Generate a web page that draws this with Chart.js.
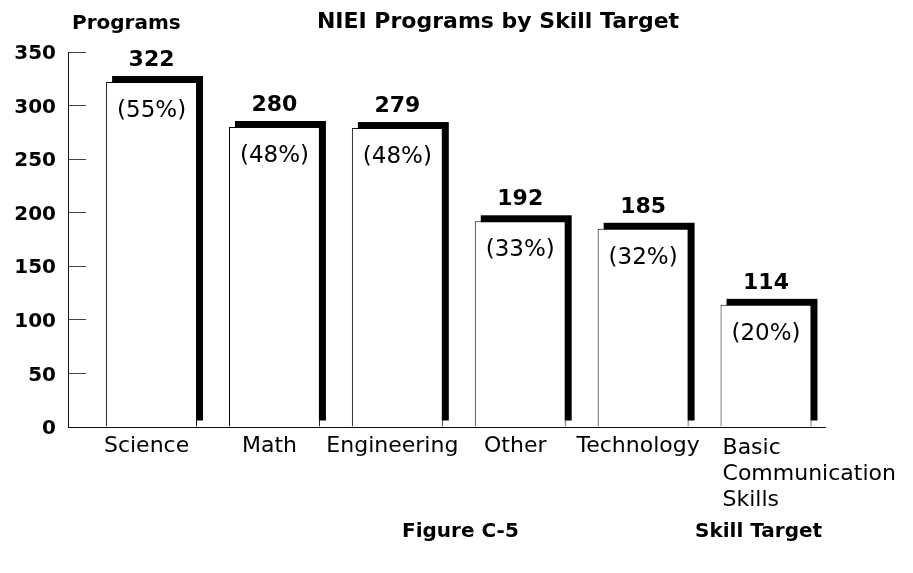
<!DOCTYPE html>
<html>
<head>
<meta charset="utf-8">
<title>NIEI Programs by Skill Target</title>
<script src="https://cdn.jsdelivr.net/npm/chart.js@4.4.0/dist/chart.umd.min.js"></script>
<style>
  body { margin: 0; background: #fff; }
</style>
</head>
<body>
<canvas id="skillChart" width="913" height="573"></canvas>
<script>
const skills = ['Science', 'Math', 'Engineering', 'Other', 'Technology', ['Basic', 'Communication', 'Skills']];
const programCounts = [322, 280, 279, 192, 185, 114];
const shares = ['(55%)', '(48%)', '(48%)', '(33%)', '(32%)', '(20%)'];
const yTicks = [0, 50, 100, 150, 200, 250, 300, 350];

const FONT = "'DejaVu Sans', sans-serif";

// shadow behind bars + text on top
const decorations = {
  id: 'decorations',
  beforeDatasetsDraw(chart) {
    const ctx = chart.ctx;
    const bars = chart.getDatasetMeta(0).data;
    ctx.save();
    ctx.fillStyle = '#000';
    bars.forEach(bar => {
      const left = bar.x - bar.width / 2;
      ctx.fillRect(left + 6, bar.y - 6, bar.width, bar.base - bar.y);
    });
    ctx.restore();
  },
  afterDatasetsDraw(chart) {
    const ctx = chart.ctx;
    const bars = chart.getDatasetMeta(0).data;
    ctx.save();
    ctx.fillStyle = '#000';
    ctx.textBaseline = 'alphabetic';
    bars.forEach((bar, i) => {
      ctx.textAlign = 'center';
      ctx.font = 'bold 22px ' + FONT;
      ctx.fillText(programCounts[i], bar.x, bar.y - 16);
      ctx.font = '23px ' + FONT;
      ctx.fillText(shares[i], bar.x, bar.y + 35);

      // category labels under the axis
      ctx.font = '22px ' + FONT;
      const lines = Array.isArray(skills[i]) ? skills[i] : [skills[i]];
      let x = bar.x - 5;
      let y = bar.base + 25;
      if (lines.length > 1) {
        ctx.textAlign = 'left';
        x = bar.x - bar.width / 2 + 2;
        y += 2;
      }
      lines.forEach((line, j) => {
        ctx.fillText(line, x, y + j * 26);
      });
    });
    ctx.restore();
  },
  afterDraw(chart) {
    const ctx = chart.ctx;
    ctx.save();
    ctx.fillStyle = '#000';
    ctx.textBaseline = 'alphabetic';
    ctx.font = 'bold 20px ' + FONT;
    ctx.textAlign = 'left';
    ctx.fillText('Programs', 72, 29);
    ctx.fillText('Figure C-5', 402, 537);
    ctx.fillText('Skill Target', 695, 537);
    ctx.font = 'bold 22px ' + FONT;
    ctx.textAlign = 'center';
    ctx.fillText('NIEI Programs by Skill Target', 498, 28);
    ctx.restore();
  }
};

const ctx = document.getElementById('skillChart').getContext('2d');

const chart = new Chart(ctx, {
  type: 'bar',
  data: {
    datasets: [{
      label: 'Programs',
      data: programCounts.map((v, i) => ({ x: i, y: v })),
      backgroundColor: '#fff',
      borderColor: '#000',
      borderWidth: 1,
      barPercentage: 0.74,
      categoryPercentage: 1
    }]
  },
  options: {
    responsive: false,
    animation: false,
    layout: {
      padding: { top: 52, right: 88, bottom: 146, left: 0 }
    },
    plugins: {
      legend: { display: false },
      tooltip: { enabled: false }
    },
    scales: {
      x: {
        type: 'linear',
        min: -0.68,
        max: 5.48,
        offset: false,
        z: 1,
        afterBuildTicks(scale) {
          scale.ticks = skills.map((s, i) => ({ value: i }));
        },
        ticks: { display: false },
        grid: { display: false },
        border: { display: true, color: '#111', width: 1 },
        afterFit(scale) { scale.height = 0; }
      },
      y: {
        min: 0,
        max: 350,
        afterBuildTicks(scale) {
          scale.ticks = yTicks.map(v => ({ value: v }));
        },
        afterFit(scale) { scale.width = 68; },
        ticks: {
          color: '#000',
          padding: 30,
          labelOffset: 2,
          font: { family: FONT, size: 20, weight: 'bold' }
        },
        grid: {
          drawOnChartArea: false,
          drawTicks: true,
          tickLength: -18,
          color: '#444'
        },
        border: { display: true, color: '#111', width: 1 }
      }
    }
  },
  plugins: [decorations]
});
</script>
</body>
</html>
